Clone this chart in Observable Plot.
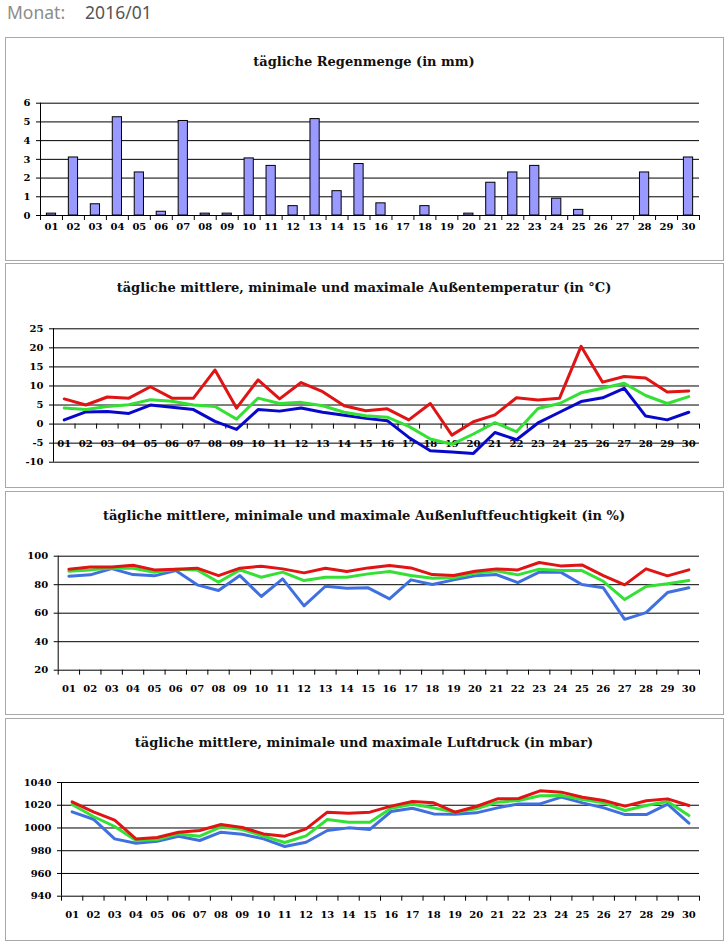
<!DOCTYPE html>
<html><head><meta charset="utf-8">
<script src="https://cdn.jsdelivr.net/npm/d3@7"></script>
<script src="https://cdn.jsdelivr.net/npm/@observablehq/plot@0.6"></script>
<style>
body{margin:0;background:#fff;width:728px;height:946px;position:relative;overflow:hidden;}
.hdr{position:absolute;left:7px;top:0;font-family:"Noto Sans";font-size:17.5px;line-height:normal;color:#8c8c8c;white-space:pre}
.box{position:absolute;left:5px;width:719px;box-sizing:border-box;border:1px solid #a8a8a8}
.title{position:absolute;left:5px;width:718px;text-align:center;font-family:"DejaVu Serif";font-weight:bold;font-size:13px;line-height:16px;color:#111}
.chart{position:absolute;left:5px}
.chart text{font-family:"DejaVu Serif";font-weight:bold}
</style></head><body>
<div class="hdr">Monat:<span style="margin-left:20px;color:#555">2016/01</span></div>
<div id="root"></div>
<script>
const dayLabels = ["01","02","03","04","05","06","07","08","09","10","11","12","13","14","15","16","17","18","19","20","21","22","23","24","25","26","27","28","29","30"];

const rain = [0.1,3.1,0.6,5.25,2.3,0.2,5.05,0.1,0.1,3.05,2.65,0.5,5.15,1.3,2.75,0.65,0,0.5,0,0.1,1.75,2.3,2.65,0.9,0.3,0,0,2.3,0,3.1];

const tempMax = [6.6,5.0,7.1,6.8,9.8,6.8,6.8,14.2,4.2,11.6,6.6,10.9,8.5,4.8,3.5,4.0,1.1,5.4,-2.9,0.6,2.4,6.9,6.3,6.8,20.4,11.0,12.5,12.1,8.4,8.7];
const tempAvg = [4.2,3.8,4.6,5.1,6.4,6.0,5.0,4.6,1.3,6.8,5.4,5.7,4.8,3.1,2.2,1.8,-0.6,-3.9,-5.3,-2.6,0.4,-2.0,4.1,5.4,8.2,9.4,10.7,7.5,5.4,7.2];
const tempMin = [1.1,3.2,3.3,2.8,5.0,4.4,3.8,0.7,-1.4,3.8,3.4,4.2,3.1,2.3,1.5,0.9,-3.5,-7.0,-7.3,-7.7,-2.2,-4.1,0.3,3.1,5.9,6.9,9.4,2.1,1.1,3.1];

const humMax = [90.9,92.5,92.5,93.7,90.4,90.9,91.6,86.4,91.6,93.0,91.1,88.3,91.6,89.2,91.8,93.4,91.8,87.1,86.4,89.5,91.1,90.4,95.6,93.2,93.9,86.4,79.9,91.1,86.2,90.4];
const humAvg = [89.5,90.4,91.8,91.6,88.8,90.9,90.4,81.7,90.4,85.2,88.8,82.9,85.2,85.2,87.6,89.2,86.4,84.5,84.8,88.1,89.7,86.9,90.9,89.9,89.9,82.4,69.6,78.7,80.6,82.9];
const humMin = [86.0,86.9,91.3,87.1,86.2,90.0,79.9,75.9,86.4,71.7,84.1,65.1,78.9,77.5,77.8,70.0,83.4,80.1,83.4,86.2,87.1,81.5,88.8,88.8,80.1,77.8,55.7,60.4,74.5,77.8];

const pressMax = [1023.0,1014.2,1006.9,990.4,991.6,996.3,997.8,1003.0,1000.4,994.8,992.8,999.2,1013.9,1013.0,1013.9,1019.2,1023.3,1022.1,1013.9,1018.9,1025.6,1025.9,1032.7,1031.5,1027.1,1024.2,1019.2,1023.9,1025.6,1019.8];
const pressAvg = [1020.6,1010.1,1001.3,989.0,989.9,994.8,992.8,1001.0,998.7,992.8,987.2,993.1,1007.4,1005.1,1005.1,1017.4,1020.9,1017.7,1013.9,1016.8,1022.7,1024.2,1028.3,1028.6,1025.0,1022.1,1015.4,1019.8,1023.3,1011.0];
const pressMin = [1014.2,1007.7,990.4,986.6,988.4,992.8,989.0,996.3,994.5,990.4,983.7,987.5,997.8,1000.1,998.7,1014.5,1017.4,1012.4,1012.1,1013.3,1017.7,1021.2,1021.2,1027.1,1022.1,1017.7,1011.8,1011.8,1020.9,1004.2];

const rainTicks = [0,1,2,3,4,5,6];
const tempTicks = [-10,-5,0,5,10,15,20,25];
const humTicks = [20,40,60,80,100];
const pressTicks = [940,960,980,1000,1020,1040];

const titles = [
  "tägliche Regenmenge (in mm)",
  "tägliche mittlere, minimale und maximale Außentemperatur (in °C)",
  "tägliche mittlere, minimale und maximale Außenluftfeuchtigkeit (in %)",
  "tägliche mittlere, minimale und maximale Luftdruck (in mbar)"
];

const RED = "#e01414", GREEN = "#33e033", BLUE = "#0808cc", LBLUE = "#4070e0";
const xDomain = [0.5, 30.5];
const bounds = [0.5, ...dayLabels.map(d => +d + 0.5)];
const root = document.getElementById("root");

function panel(cfg) {
  const box = document.createElement("div");
  box.className = "box";
  box.style.top = cfg.top + "px";
  box.style.height = cfg.height + "px";
  root.appendChild(box);
  const t = document.createElement("div");
  t.className = "title";
  t.style.top = (cfg.top + 17) + "px";
  t.textContent = cfg.title;
  root.appendChild(t);

  const marks = [
    Plot.text(dayLabels, {x: d => +d, y: cfg.axisAt, text: d => d, dy: cfg.labelDy, lineAnchor: "top", fill: "#000"}),
    Plot.ruleY(cfg.yTicks, {stroke: "#000"}),
    Plot.ruleX([xDomain[0]], {stroke: "#000"}),
    Plot.ruleX(bounds, {x: d => d, y1: cfg.axisAt, y2: cfg.axisAt, insetBottom: -5, stroke: "#000"}),
    Plot.axisY({ticks: cfg.yTicks, tickSize: 4, tickPadding: 6, tickFormat: d => String(d), label: null}),
    ...cfg.marks
  ];
  const svg = Plot.plot({
    width: 718, height: cfg.height,
    marginLeft: cfg.marginLeft, marginRight: 24, marginTop: cfg.marginTop, marginBottom: cfg.marginBottom,
    x: {type: "linear", domain: xDomain, axis: null},
    y: {domain: cfg.yDomain},
    style: {fontFamily: "DejaVu Serif", fontWeight: "bold", fontSize: "10px", color: "#000", background: "transparent", overflow: "visible"},
    marks
  });
  svg.classList.add("chart");
  svg.style.position = "absolute";
  svg.style.left = "5px";
  svg.style.top = cfg.top + "px";
  root.appendChild(svg);
}

const line = (vals, color) => Plot.lineY(vals, {x: (d, i) => +dayLabels[i], y: d => d, stroke: color, strokeWidth: 3});

panel({
  top: 37, height: 224, marginLeft: 35, marginTop: 65.7, marginBottom: 46,
  yDomain: [0, 6], yTicks: rainTicks, axisAt: 0, labelDy: 7, title: titles[0],
  marks: [
    Plot.rectY(rain, {x1: (d, i) => +dayLabels[i] - 0.21, x2: (d, i) => +dayLabels[i] + 0.21, y1: 0, y2: d => d, fill: "#9999ff", stroke: "#000", strokeWidth: 1})
  ]
});

panel({
  top: 263, height: 225, marginLeft: 48, marginTop: 65.3, marginBottom: 26.3,
  yDomain: [-10, 25], yTicks: tempTicks, axisAt: 0, labelDy: 15.5, title: titles[1],
  marks: [line(tempMin, BLUE), line(tempAvg, GREEN), line(tempMax, RED)]
});

panel({
  top: 491, height: 224, marginLeft: 52.7, marginTop: 64.7, marginBottom: 45.3,
  yDomain: [20, 100], yTicks: humTicks, axisAt: 20, labelDy: 14.6, title: titles[2],
  marks: [line(humMin, LBLUE), line(humAvg, GREEN), line(humMax, RED)]
});

panel({
  top: 718, height: 223, marginLeft: 56, marginTop: 64, marginBottom: 45.3,
  yDomain: [940, 1040], yTicks: pressTicks, axisAt: 940, labelDy: 15, title: titles[3],
  marks: [line(pressMin, LBLUE), line(pressAvg, GREEN), line(pressMax, RED)]
});
</script>
</body></html>
